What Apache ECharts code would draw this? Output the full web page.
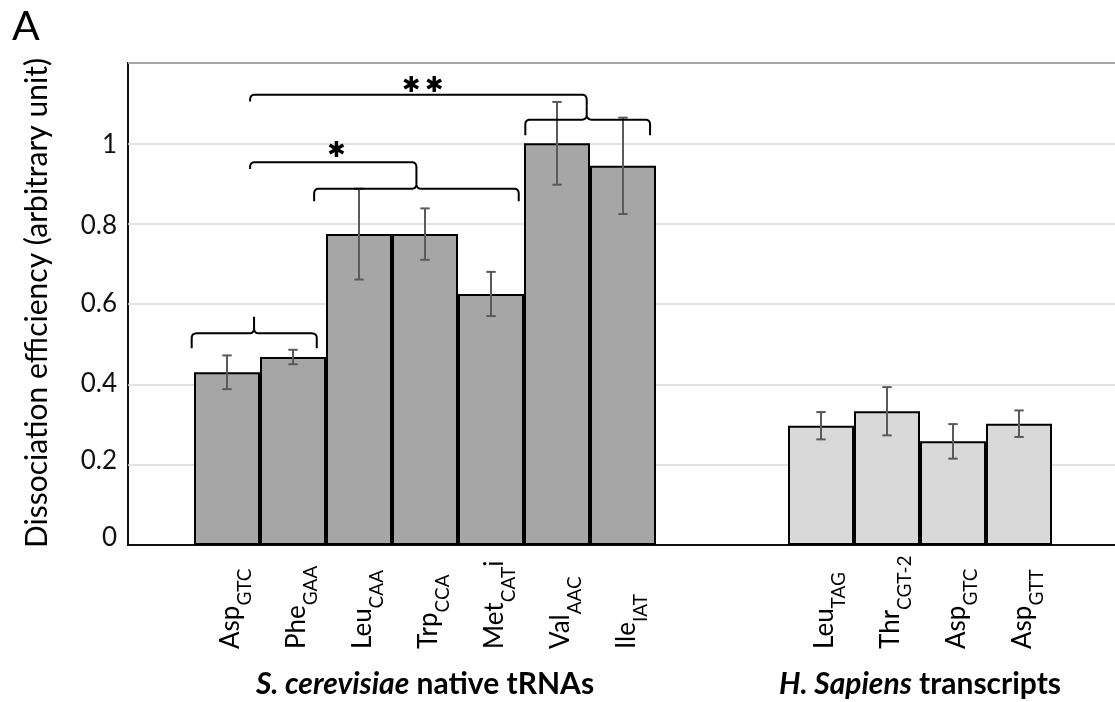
<!DOCTYPE html>
<html><head><meta charset="utf-8">
<script src="https://cdn.jsdelivr.net/npm/echarts@6/dist/echarts.min.js"></script>
<style>html,body{margin:0;padding:0;background:#fff}#c{width:1115px;height:702px}</style>
</head><body><div id="c"></div>
<script>
// ---------------- data ----------------
const yeastNames  = ['Asp', 'Phe', 'Leu', 'Trp', 'Met', 'Val', 'Ile'];
const yeastSubs   = ['GTC', 'GAA', 'CAA', 'CCA', 'CAT', 'AAC', 'IAT'];
const yeastSuffix = ['', '', '', '', 'i', '', ''];
const yeastValues = [0.430, 0.468, 0.774, 0.774, 0.625, 1.000, 0.944];
const yeastErrors = [0.042, 0.018, 0.113, 0.064, 0.055, 0.103, 0.120];

const humanNames  = ['Leu', 'Thr', 'Asp', 'Asp'];
const humanSubs   = ['TAG', 'CGT-2', 'GTC', 'GTT'];
const humanSuffix = ['', '', '', ''];
const humanValues = [0.297, 0.333, 0.258, 0.302];
const humanErrors = [0.034, 0.060, 0.043, 0.033];

const groupTitleItalic = ['S. cerevisiae', 'H. Sapiens'];
const groupTitleRest   = [' native tRNAs', ' transcripts'];
const yTickLabels = ['0', '0.2', '0.4', '0.6', '0.8', '1'];
const yTitle = 'Dissociation efficiency (arbitrary unit)';
const panelLetter = 'A';

// significance braces: l/r/tip in category-slot units, y values in data units
const braces = [
  {l: 0.965, r: 2.86, y: 0.527, yl: 0.490, yr: 0.490, tipU: 1.91, tipY: 0.568},
  {l: 2.82,  r: 5.92, y: 0.887, yl: 0.856, yr: 0.856, tipU: 4.37, tipY: 0.921},
  {l: 1.85,  r: 4.37, y: 0.953, yl: 0.936, yr: 0.921},
  {l: 6.02,  r: 7.91, y: 1.059, yl: 1.020, yr: 1.020, tipU: 6.95, tipY: 1.091},
  {l: 1.85,  r: 6.95, y: 1.121, yl: 1.104, yr: 1.091}
];
const starMarks = [
  {u: 3.16, y: 0.980},
  {u: 4.29, y: 1.141},
  {u: 4.64, y: 1.141}
];
const starText = '\u2731';

// ---------------- layout of slots ----------------
const blank1 = [''];
const slotNames  = [].concat(blank1, yeastNames, ['', ''], humanNames, blank1);
const slotSubs   = [].concat(blank1, yeastSubs, ['', ''], humanSubs, blank1);
const slotSuffix = [].concat(blank1, yeastSuffix, ['', ''], humanSuffix, blank1);
const slotValues = [].concat(['-'], yeastValues, ['-', '-'], humanValues, ['-']);
const slotErrors = [].concat([null], yeastErrors, [null, null], humanErrors, [null]);
const slotGroup  = [].concat([-1], yeastValues.map(() => 0), [-1, -1], humanValues.map(() => 1), [-1]);
const groupColors = ['#a6a6a6', '#d9d9d9'];
const groupRanges = [[1, 1 + yeastNames.length - 1], [10, 10 + humanNames.length - 1]];

const FONT = 'Lato, "Open Sans", sans-serif';
// small vertical nudges of the y tick labels (as in the source figure)
const yLabelPad = [[0, 0, 14, 0], [0, 0, 8, 0], [0, 0, 2, 0], [0, 0, 0, 0], [4, 0, 0, 0], [2, 0, 0, 0]];
const yRich = {};
yLabelPad.forEach((p, k) => { yRich['t' + k] = {fontFamily: FONT, fontSize: 26, color: '#111', padding: p}; });

const chart = echarts.init(document.getElementById('c'), null, {renderer: 'canvas', width: 1115, height: 702});

function slotX(api, u) {
  const band = api.size([1, 0])[0];
  const x0 = api.coord([0, 0])[0] - band / 2;
  return x0 + u * band;
}
function yPx(api, v) { return api.coord([0, v])[1]; }

function bracePoints(api, b) {
  const xl = slotX(api, b.l), xr = slotX(api, b.r);
  const yL = yPx(api, b.y), y1 = yPx(api, b.yl), y2 = yPx(api, b.yr);
  const pts = [];
  const q = (p0, c, p2) => {
    for (let i = 1; i <= 8; i++) {
      const t = i / 8, a = (1 - t) * (1 - t), bb = 2 * (1 - t) * t, cc = t * t;
      pts.push([a * p0[0] + bb * c[0] + cc * p2[0], a * p0[1] + bb * c[1] + cc * p2[1]]);
    }
  };
  const r1 = Math.min(5, Math.abs(y1 - yL));
  pts.push([xl, y1]);
  pts.push([xl, yL + r1]);
  q([xl, yL + r1], [xl, yL], [xl + r1, yL]);
  if (b.tipU != null) {
    const xt = slotX(api, b.tipU), yt = yPx(api, b.tipY);
    const rt = Math.min(5, Math.abs(yL - yt));
    pts.push([xt - rt, yL]);
    q([xt - rt, yL], [xt, yL], [xt, yL - rt]);
    pts.push([xt, yt]);
    pts.push([xt, yL - rt]);
    q([xt, yL - rt], [xt, yL], [xt + rt, yL]);
  }
  const r2 = Math.min(5, Math.abs(y2 - yL));
  pts.push([xr - r2, yL]);
  q([xr - r2, yL], [xr, yL], [xr, yL + r2]);
  pts.push([xr, y2]);
  return pts;
}

const option = {
  animation: false,
  backgroundColor: '#fff',
  grid: {left: 128, top: 63, width: 990, height: 482, show: true, borderColor: '#111', borderWidth: 2, containLabel: false, outerBoundsMode: 'none'},
  xAxis: {
    type: 'category',
    data: slotNames.map((n, i) => n + '_' + i),
    axisLine: {show: true, lineStyle: {color: '#111', width: 2}},
    axisTick: {show: false},
    splitLine: {show: false},
    axisLabel: {
      interval: 0,
      rotate: 90,
      align: 'left',
      verticalAlign: 'middle',
      margin: 104,
      formatter: (v, i) => {
        if (!slotNames[i]) return '';
        let s = '{m|' + slotNames[i] + '}{s|' + slotSubs[i] + '}';
        if (slotSuffix[i]) s += '{m|' + slotSuffix[i] + '}';
        return s;
      },
      rich: {
        m: {fontFamily: FONT, fontSize: 26, color: '#000', lineHeight: 30, padding: [6, 0, 0, 0], verticalAlign: 'top'},
        s: {fontFamily: FONT, fontSize: 19, color: '#000', lineHeight: 20, padding: [23, 0, 0, 0], verticalAlign: 'top'}
      }
    }
  },
  yAxis: {
    type: 'value',
    min: 0, max: 1.2, interval: 0.2,
    axisLine: {show: false},
    axisTick: {show: false},
    splitLine: {show: true, lineStyle: {color: '#d9d9d9', width: 1.5}},
    axisLabel: {
      margin: 11,
      fontFamily: FONT, fontSize: 26, color: '#111',
      showMaxLabel: false,
      formatter: v => {
        const k = Math.round(v / 0.2);
        return yTickLabels[k] != null ? '{t' + k + '|' + yTickLabels[k] + '}' : '';
      },
      rich: yRich
    }
  },
  graphic: [
    {type: 'text', x: 12, y: 27, style: {text: panelLetter, fontFamily: FONT, fontSize: 41, fill: '#000', align: 'left', verticalAlign: 'middle'}},
    {type: 'text', x: 37, y: 303, rotation: Math.PI / 2, style: {text: yTitle, fontFamily: FONT, fontSize: 30, fill: '#000', align: 'center', verticalAlign: 'middle'}}
  ],
  series: [
    {
      type: 'bar',
      barCategoryGap: '0%',
      barGap: '0%',
      data: slotValues.map((v, i) => ({
        value: v,
        itemStyle: {color: slotGroup[i] >= 0 ? groupColors[slotGroup[i]] : '#fff', borderColor: '#000', borderWidth: 2}
      })),
      z: 2
    },
    {
      type: 'custom',
      z: 5,
      clip: false,
      data: slotValues.map((v, i) => [i, v === '-' ? 0 : v, slotErrors[i] == null ? 0 : slotErrors[i]]).filter((d, i) => slotErrors[i] != null),
      renderItem: (params, api) => {
        const c = api.value(0), v = api.value(1), e = api.value(2);
        const top = api.coord([c, v + e]), bot = api.coord([c, v - e]);
        const x = top[0], w = 4.7;
        const st = {stroke: '#5a5a5a', lineWidth: 2};
        return {type: 'group', children: [
          {type: 'line', shape: {x1: x, y1: top[1], x2: x, y2: bot[1]}, style: st},
          {type: 'line', shape: {x1: x - w, y1: top[1], x2: x + w, y2: top[1]}, style: st},
          {type: 'line', shape: {x1: x - w, y1: bot[1], x2: x + w, y2: bot[1]}, style: st}
        ]};
      }
    },
    {
      type: 'custom',
      z: 6,
      clip: false,
      data: braces.map((b, i) => [i, b.y]),
      renderItem: (params, api) => ({
        type: 'polyline',
        shape: {points: bracePoints(api, braces[params.dataIndex])},
        style: {stroke: '#000', lineWidth: 2, fill: null}
      })
    },
    {
      type: 'custom',
      z: 6,
      clip: false,
      data: starMarks.map((s, i) => [i, s.y]),
      renderItem: (params, api) => {
        const s = starMarks[params.dataIndex];
        return {type: 'text', style: {text: starText, x: slotX(api, s.u), y: yPx(api, s.y), align: 'center', verticalAlign: 'middle', fontFamily: '"DejaVu Sans"', fontSize: 22, fill: '#000'}};
      }
    },
    {
      type: 'custom',
      z: 6,
      clip: false,
      data: groupRanges.map((g, i) => [i, 0]),
      renderItem: (params, api) => {
        const g = groupRanges[params.dataIndex];
        const i = params.dataIndex;
        const cx = slotX(api, (g[0] + g[1] + 1) / 2);
        const y = yPx(api, 0) + 139;
        return {type: 'text', style: {
          text: '{bi|' + groupTitleItalic[i] + '}{b|' + groupTitleRest[i] + '}',
          x: cx, y: y, align: 'center', verticalAlign: 'middle',
          rich: {
            bi: {fontFamily: FONT, fontSize: 30, fontWeight: 'bold', fontStyle: 'italic', fill: '#000'},
            b: {fontFamily: FONT, fontSize: 30, fontWeight: 'bold', fill: '#000'}
          }
        }};
      }
    }
  ]
};
chart.setOption(option);
</script>
</body></html>
